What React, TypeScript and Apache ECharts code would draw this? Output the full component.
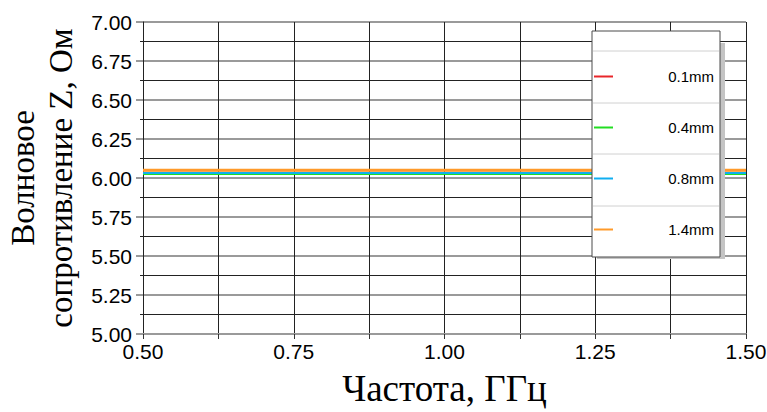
import React, { useEffect, useRef } from "react";
import * as echarts from "echarts";

// Frequency samples, GHz
const frequency = [0.5, 1.0, 1.5];
// Characteristic impedance Z, Ohm, per conductor thickness
const z01mm = [6.05, 6.05, 6.05];
const z04mm = [6.025, 6.025, 6.025];
const z08mm = [6.032, 6.032, 6.032];
const z14mm = [6.05, 6.05, 6.05];

const seriesNames = ["0.1mm", "0.4mm", "0.8mm", "1.4mm"];
const seriesColors = ["#e8262a", "#22dd22", "#10aef0", "#ff9a2a"];
const seriesWidths = [2, 2, 2, 3];
const seriesValues = [z01mm, z04mm, z08mm, z14mm];

const xTicks = { min: 0.5, max: 1.5, step: 0.25 };
const yTicks = { min: 5, max: 7, step: 0.25 };

export default function App() {
  const ref = useRef<HTMLDivElement>(null);

  useEffect(() => {
    if (!ref.current) return;
    const chart = echarts.init(ref.current, null, { renderer: "svg" });

    const legendBox = { x: 592, y: 31, w: 128, h: 226 };
    const rowTops = [51, 103, 154, 206];
    const legendLine = 16;

    chart.setOption({
      animation: false,
      backgroundColor: "#ffffff",
      grid: { left: 143, right: 21, top: 22, bottom: 78, outerBoundsMode: "none", containLabel: false },
      xAxis: {
        type: "value",
        min: xTicks.min,
        max: xTicks.max,
        interval: xTicks.step,
        name: "Частота, ГГц",
        nameLocation: "middle",
        nameGap: 34,
        nameTextStyle: {
          fontFamily: "Liberation Serif",
          fontSize: 37,
          lineHeight: 40,
          color: "#000",
        },
        axisLine: { show: true, lineStyle: { color: "#9a9a9a", width: 2 } },
        axisTick: { show: true, length: 5, lineStyle: { color: "#333", width: 1 } },
        minorTick: { show: true, splitNumber: 2, length: 5, lineStyle: { color: "#333" } },
        axisLabel: {
          fontFamily: "Liberation Sans",
          fontSize: 21,
          color: "#000",
          margin: 7,
          formatter: (v: number) => v.toFixed(2),
        },
        splitLine: { show: true, lineStyle: { color: "#222", width: 1 } },
        minorSplitLine: { show: true, lineStyle: { color: "#222", width: 1 } },
      },
      yAxis: {
        type: "value",
        min: yTicks.min,
        max: yTicks.max,
        interval: yTicks.step,
        name: "Волновое\nсопротивление Z, Ом",
        nameLocation: "middle",
        nameGap: 63,
        nameTextStyle: {
          fontFamily: "Liberation Serif",
          fontSize: 33,
          lineHeight: 38,
          color: "#000",
        },
        axisLine: { show: true, onZero: false, lineStyle: { color: "#222", width: 1 } },
        axisTick: { show: true, length: 7, lineStyle: { color: "#9a9a9a", width: 2 } },
        minorTick: { show: true, splitNumber: 2, length: 3, lineStyle: { color: "#222" } },
        axisLabel: {
          fontFamily: "Liberation Sans",
          fontSize: 21,
          color: "#000",
          margin: 11,
          formatter: (v: number) => v.toFixed(2),
        },
        splitLine: { show: true, lineStyle: { color: "#9a9a9a", width: 2 } },
        minorSplitLine: { show: true, lineStyle: { color: "#222", width: 1 } },
      },
      legend: {
        orient: "vertical",
        left: 594,
        top: 77 - legendLine / 2,
        padding: 0,
        z: 10,
        itemWidth: 19,
        itemHeight: 2,
        itemGap: 36,
        icon: "rect",
        data: seriesNames,
        selectedMode: false,
        formatter: (name: string) => `{t|${name}}`,
        textStyle: {
          rich: {
            t: {
              width: 96,
              align: "right",
              fontFamily: "Liberation Sans",
              fontSize: 15,
              lineHeight: legendLine,
              color: "#000",
            },
          },
        },
      },
      graphic: [
        {
          type: "rect",
          z: 8,
          shape: { x: legendBox.x + 5, y: legendBox.y + 12, width: legendBox.w, height: legendBox.h - 10 },
          style: { fill: "#c4c4c4" },
        },
        {
          type: "rect",
          z: 9,
          shape: { x: legendBox.x, y: legendBox.y, width: legendBox.w, height: legendBox.h },
          style: { fill: "#ffffff", stroke: "#4a4a4a", lineWidth: 1 },
        },
        ...rowTops.map((y) => ({
          type: "line",
          z: 9,
          shape: { x1: legendBox.x + 1, y1: y, x2: legendBox.x + legendBox.w - 1, y2: y },
          style: { stroke: "#d0d0d0", lineWidth: 1 },
        })),
      ],
      series: seriesNames.map((name, i) => ({
        name,
        type: "line",
        showSymbol: false,
        symbol: "none",
        z: 3 + i,
        color: seriesColors[i],
        lineStyle: { color: seriesColors[i], width: seriesWidths[i] },
        data: frequency.map((f, k) => [f, seriesValues[i][k]]),
      })),
    });

    return () => chart.dispose();
  }, []);

  return <div ref={ref} style={{ width: 767, height: 412, position: "absolute", left: 0, top: 0 }} />;
}
